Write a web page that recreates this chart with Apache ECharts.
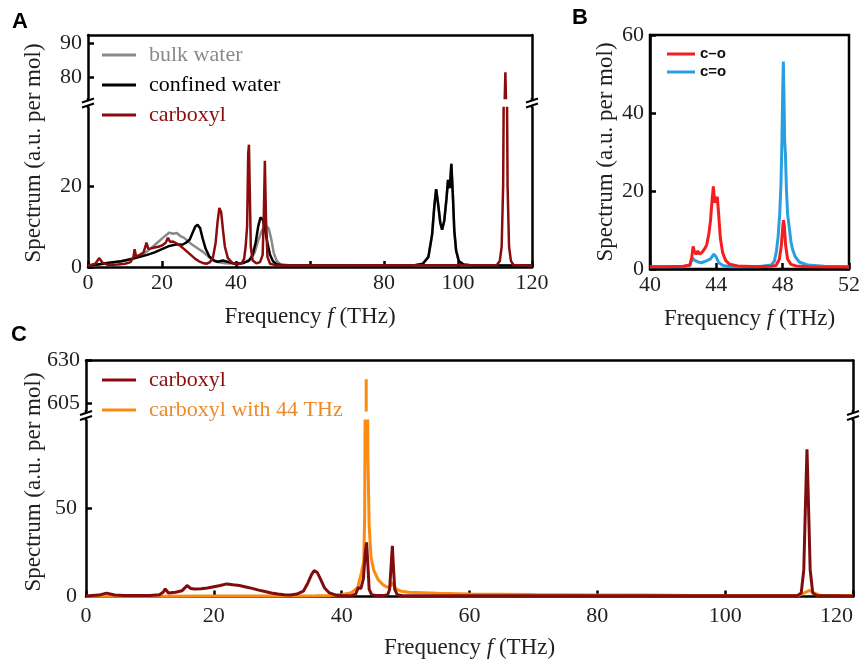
<!DOCTYPE html>
<html>
<head>
<meta charset="utf-8">
<title>Spectrum</title>
<script src="https://cdn.jsdelivr.net/npm/echarts@6/dist/echarts.min.js"></script>
<style>
html, body { margin: 0; padding: 0; background: #ffffff; }
#chart { width: 863px; height: 663px; }
</style>
</head>
<body>
<div id="chart"></div>
<script>
// ---- data (frequency THz, spectrum a.u. per mol) ----
// panel A
const bulkWater = [[0,0.3],[3,0.6],[6,1.0],[10,1.6],[13,2.4],[15,3.2],[17,4.6],[18.5,5.8],[20,7.0],[21,7.8],[22,8.5],[23,8.2],[24,8.4],[25,7.6],[26,7.2],[27,6.4],[28,5.6],[29,5.0],[30,4.4],[31,3.8],[32,3.0],[33,2.2],[34,1.6],[35,1.2],[37,0.9],[40,0.8],[42,1.0],[44,2.0],[45,3.5],[46,6.5],[47,9.0],[48,10.2],[48.8,9.6],[49.5,7.0],[50.2,3.5],[51,1.5],[52,0.7],[55,0.4],[88,0.4],[90.5,0.8],[92,2.5],[93,8],[93.6,15],[94.1,19.2],[94.7,15],[95.2,11],[95.7,9.2],[96.3,11.5],[96.9,17],[97.3,21.5],[97.6,20],[97.8,19.5],[98.2,25.5],[98.6,18],[99.0,9],[99.5,4],[100.2,1.5],[101.5,0.6],[104,0.4],[120,0.4]];
const confinedWater = [[0,0.3],[3,0.7],[6,1.1],[9,1.4],[12,2.0],[14,2.5],[16,3.0],[18,3.6],[20,4.4],[22,5.2],[24,5.6],[25.5,5.5],[26.5,6.0],[27.5,6.8],[28.3,8.5],[29,10.0],[29.6,10.4],[30.3,9.6],[31,7.0],[31.8,4.5],[32.8,2.6],[34,1.6],[35,1.3],[36.5,1.6],[38,1.2],[40,0.8],[42,1.0],[43.5,1.5],[44.5,3.0],[45.3,6.0],[46,10.0],[46.6,12.2],[47.2,11.8],[47.8,9.5],[48.5,6.0],[49.2,3.0],[50,1.4],[51,0.7],[53,0.4],[88,0.4],[90.5,0.8],[92,2.5],[93,8],[93.6,15],[94.1,19.2],[94.7,15],[95.2,11],[95.7,9.2],[96.3,11.5],[96.9,17],[97.3,21.5],[97.6,20],[97.8,19.5],[98.2,25.5],[98.6,18],[99.0,9],[99.5,4],[100.2,1.5],[101.5,0.6],[104,0.4],[120,0.4]];
const carboxylA = [[0,0.3],[2,0.8],[3,2.2],[4,1.0],[5.5,0.5],[8,0.6],[10,0.8],[11.5,1.2],[12.3,2.5],[12.6,4.4],[13,2.6],[14,3.0],[15,3.6],[15.5,5.0],[15.8,6.0],[16.3,4.5],[17,4.6],[18,4.8],[19,5.0],[20,5.3],[21,6.0],[21.6,7.2],[22.2,6.2],[23,6.3],[24,5.8],[25,5.2],[26,4.4],[27,3.6],[28,2.8],[29,2.0],[30,1.4],[31,1.0],[32,0.8],[33,1.2],[33.8,2.5],[34.5,6],[35,11],[35.5,14.6],[36,13.5],[36.5,9],[37,5],[37.8,2.2],[39,1.0],[40.5,0.7],[41.5,0.9],[42.2,2.0],[42.6,5.0],[43.0,10],[43.3,28],[43.5,30.2],[43.7,20],[44.0,5],[44.5,1.6],[45.5,0.9],[46.5,1.2],[47.2,3],[47.5,12],[47.8,26.2],[48.1,12],[48.5,2.5],[49.2,0.8],[51,0.4],[110.5,0.5],[111.3,1.5],[111.8,5],[112.2,20],[112.55,70],[112.8,81.5],[113.05,70],[113.4,20],[113.8,5],[114.3,1.5],[115,0.5],[120,0.4]];
// panel B
const cSingleO = [[40,0.6],[41,0.6],[42,0.7],[42.4,1.0],[42.52,3],[42.6,5.8],[42.68,4.5],[42.78,3.8],[42.88,4.6],[43.0,3.8],[43.15,4.3],[43.3,5.2],[43.42,6.2],[43.55,9],[43.65,12.5],[43.75,18],[43.82,21.2],[43.9,17],[43.98,16.5],[44.06,18.5],[44.14,14],[44.24,8],[44.38,4.2],[44.56,2.2],[44.8,1.2],[45.3,0.8],[46.5,0.6],[47.3,0.7],[47.6,0.9],[47.8,2.5],[47.92,6],[48.0,10.5],[48.05,12.5],[48.1,11],[48.18,6],[48.3,2.5],[48.5,1.2],[48.8,0.8],[49.5,0.6],[52,0.5]];
const cDoubleO = [[40,0.6],[42,0.6],[42.4,0.8],[42.55,2.8],[42.7,2.2],[42.9,1.8],[43.1,1.6],[43.4,2.1],[43.65,2.6],[43.85,3.8],[44.0,3],[44.15,1.6],[44.4,0.9],[44.8,0.6],[46.5,0.6],[47.3,1.0],[47.5,2],[47.62,4.5],[47.72,8],[47.82,14],[47.9,22],[47.96,34],[48.0,45],[48.04,53.2],[48.08,44],[48.12,33],[48.17,29],[48.23,20],[48.3,14],[48.4,10.5],[48.5,7],[48.6,5],[48.75,3.2],[49,1.8],[49.5,1],[50.5,0.7],[52,0.6]];
// panel C
const carboxylC = [[0,0.3],[2,0.8],[3.2,1.9],[4.5,0.8],[6,0.5],[10,0.5],[11.5,1.0],[12.1,2.5],[12.4,4.3],[12.9,2.0],[14,2.4],[15,3.2],[15.5,5],[15.8,6.2],[16.4,4.5],[17,4.2],[18,4.4],[19,4.8],[20,5.5],[21,6.2],[22,7.1],[23,6.6],[24,6.2],[25,5.4],[26,4.6],[27,3.6],[28,2.8],[29,2.0],[30,1.4],[31,1.0],[32,0.9],[33,1.4],[34,3.0],[34.7,7.5],[35.3,12.5],[35.7,14.6],[36.2,13.5],[36.8,9],[37.3,5],[38,2.2],[39,0.9],[40,0.5],[41.5,0.4],[42.2,1.5],[42.6,5.0],[43.0,4.5],[43.4,10],[43.7,25],[43.9,30.5],[44.1,18],[44.3,4],[44.7,1.0],[45.5,0.5],[46.5,0.5],[47.2,1.0],[47.5,4],[47.75,18],[47.93,28.6],[48.08,18],[48.3,4],[48.7,1.0],[49.5,0.4],[111.3,0.5],[111.9,2],[112.3,15],[112.55,50],[112.8,83],[113.05,50],[113.3,15],[113.7,2],[114.3,0.5],[120,0.3]];
const carboxyl44 = [[0,0.2],[10,0.2],[20,0.3],[30,0.3],[36,0.4],[38,0.6],[40,1.0],[41.5,2.2],[42.5,5],[43.1,13.6],[43.45,20],[43.6,45],[43.7,130],[43.78,350],[43.84,619],[43.9,400],[43.98,180],[44.1,80],[44.3,40],[44.6,22],[45,15],[45.7,9.5],[46.5,6.5],[47.3,5],[47.7,6],[47.95,8],[48.2,6],[48.6,4],[49.3,3],[50.5,2.4],[55,1.8],[60,1.4],[70,1.1],[80,0.9],[87.5,0.8],[87.8,1.8],[88.1,0.8],[95,0.6],[105,0.5],[111.5,0.6],[112.4,2],[113.2,3.4],[113.9,2],[114.8,0.7],[120,0.4]];

// tick values
const aUpperTicks = [80, 90];
const aLowerTicks = [0, 20];
const cUpperTicks = [605, 630];
const cLowerTicks = [0, 50];

// ---- layout ----
const A = { left: 88, width: 444, upTop: 35, upH: 63, lowTop: 108, lowH: 159 };
const B = { left: 650, top: 35, width: 199, height: 234 };
const C = { left: 86, width: 767, upTop: 360.5, upH: 49.5, lowTop: 421, lowH: 175.5 };

const SERIF = '"Liberation Serif", "Times New Roman", serif';
const TXT = '#231f20';
const AW = 2.5;

const chart = echarts.init(document.getElementById('chart'));

function xAx(grid, pos, opts) {
  return Object.assign({
    type: 'value', gridIndex: grid, position: pos, min: 0, max: 120, interval: 20,
    axisLine: { show: true, onZero: false, lineStyle: { color: '#000', width: AW } },
    axisTick: { show: false },
    axisLabel: { show: false },
    splitLine: { show: false }
  }, opts || {});
}
function yAx(grid, pos, min, max, opts) {
  return Object.assign({
    type: 'value', gridIndex: grid, position: pos, min: min, max: max,
    axisLine: { show: true, onZero: false, lineStyle: { color: '#000', width: AW } },
    axisTick: { show: false },
    axisLabel: { show: false },
    splitLine: { show: false }
  }, opts || {});
}
const tickIn = { show: true, inside: true, length: 6, lineStyle: { color: '#000', width: AW } };
const lab = (margin) => ({ show: true, margin: margin, color: TXT, fontFamily: SERIF, fontSize: 22 });
const freqName = {
  name: '{n|Frequency }{i|f}{n| (THz)}',
  nameLocation: 'middle',
  nameTextStyle: {
    rich: {
      n: { fontFamily: SERIF, fontSize: 23, color: TXT },
      i: { fontFamily: SERIF, fontSize: 23, color: TXT, fontStyle: 'italic' }
    }
  }
};

function line(name, data, color, xi, yi, z, w) {
  return {
    name: name, type: 'line', data: data, xAxisIndex: xi, yAxisIndex: yi,
    color: color, showSymbol: false, symbol: 'none', z: z, clip: true,
    lineStyle: { color: color, width: w || 2.5 }
  };
}

function breakMark(x, upperBottom, lowerTop) {
  const yb = (upperBottom + lowerTop) / 2;
  const s = { stroke: '#000', lineWidth: 2 };
  return {
    type: 'group', x: x, y: yb, z: 100,
    children: [
      { type: 'line', shape: { x1: 0, y1: upperBottom - yb, x2: 0, y2: -2.5 }, style: { stroke: '#000', lineWidth: AW } },
      { type: 'line', shape: { x1: 0, y1: 2.5, x2: 0, y2: lowerTop - yb }, style: { stroke: '#000', lineWidth: AW } },
      { type: 'line', shape: { x1: -6, y1: -0.5, x2: 6, y2: -4.5 }, style: s },
      { type: 'line', shape: { x1: -6, y1: 4.5, x2: 6, y2: 0.5 }, style: s }
    ]
  };
}
function yName(x, y) {
  return {
    type: 'text', x: x, y: y, rotation: Math.PI / 2,
    style: {
      text: 'Spectrum (a.u. per mol)', fill: TXT, font: '23px ' + SERIF,
      align: 'center', verticalAlign: 'middle', textAlign: 'center', textVerticalAlign: 'middle'
    }
  };
}
const panelLetter = (t, left, top) => ({
  text: t, left: left, top: top, padding: 0,
  textStyle: { fontFamily: '"Liberation Sans", Arial, sans-serif', fontWeight: 'bold', fontSize: 22, color: '#000' }
});

const aLow = A.lowH / 4.05;
const aUpMin = 80 - (A.upTop + A.upH - 77.3) / 3.4;
const aUpMax = aUpMin + A.upH / 3.4;
const cLow = C.lowH / 1.774;
const cUpMin = 630 - C.upH / 1.7;

const option = {
  animation: false,
  backgroundColor: '#ffffff',
  title: [panelLetter('A', 12, 11), panelLetter('B', 572, 7), panelLetter('C', 11, 324)],
  grid: [
    { left: A.left, top: A.upTop, width: A.width, height: A.upH, outerBoundsMode: 'none' },
    { left: A.left, top: A.lowTop, width: A.width, height: A.lowH, outerBoundsMode: 'none' },
    { left: B.left, top: B.top, width: B.width, height: B.height, outerBoundsMode: 'none',
      show: true, borderColor: '#000', borderWidth: AW },
    { left: C.left, top: C.upTop, width: C.width, height: C.upH, outerBoundsMode: 'none' },
    { left: C.left, top: C.lowTop, width: C.width, height: C.lowH, outerBoundsMode: 'none' }
  ],
  xAxis: [
    xAx(0, 'top'),
    xAx(1, 'bottom', Object.assign({
      axisTick: tickIn,
      axisLabel: Object.assign(lab(5), { formatter: v => (v === 60 ? '' : String(v)) }),
      nameGap: 38
    }, freqName)),
    Object.assign({
      type: 'value', gridIndex: 2, min: 40, max: 52, interval: 4,
      axisLine: { show: true, onZero: false, lineStyle: { color: '#000', width: AW } },
      axisTick: tickIn, axisLabel: lab(5), splitLine: { show: false }, nameGap: 38
    }, freqName),
    xAx(3, 'top'),
    xAx(4, 'bottom', Object.assign({
      axisTick: tickIn,
      axisLabel: Object.assign(lab(9), { alignMaxLabel: 'right' }),
      nameGap: 40
    }, freqName))
  ],
  yAxis: [
    yAx(0, 'left', aUpMin, aUpMax, {
      axisTick: Object.assign({ customValues: aUpperTicks }, tickIn),
      axisLabel: Object.assign({ customValues: aUpperTicks }, lab(6))
    }),
    yAx(0, 'right', aUpMin, aUpMax),
    yAx(1, 'left', 0, aLow, {
      axisTick: Object.assign({ customValues: aLowerTicks }, tickIn),
      axisLabel: Object.assign({ customValues: aLowerTicks }, lab(6))
    }),
    yAx(1, 'right', 0, aLow),
    yAx(2, 'left', 0, 60, {
      interval: 20, axisTick: tickIn, axisLabel: lab(6),
      name: 'Spectrum (a.u. per mol)', nameLocation: 'middle', nameGap: 33,
      nameTextStyle: { fontFamily: SERIF, fontSize: 23, color: TXT }
    }),
    yAx(3, 'left', cUpMin, 630, {
      axisTick: Object.assign({ customValues: cUpperTicks }, tickIn),
      axisLabel: Object.assign({ customValues: cUpperTicks }, lab(6))
    }),
    yAx(3, 'right', cUpMin, 630),
    yAx(4, 'left', 0, cLow, {
      axisTick: Object.assign({ customValues: cLowerTicks }, tickIn),
      axisLabel: Object.assign({ customValues: cLowerTicks }, lab(9))
    }),
    yAx(4, 'right', 0, cLow)
  ],
  legend: [
    {
      orient: 'vertical', left: 102, top: 44, padding: 0, itemGap: 8,
      itemWidth: 34, itemHeight: 3, icon: 'rect',
      textStyle: { fontFamily: SERIF, fontSize: 22, padding: [0, 0, 0, 8] },
      data: [
        { name: 'bulk water', textStyle: { color: '#8a8a8a' } },
        { name: 'confined water', textStyle: { color: '#000' } },
        { name: 'carboxyl', textStyle: { color: '#8b0c0c' } }
      ]
    },
    {
      orient: 'vertical', left: 667, top: 46.5, padding: 0, itemGap: 3,
      itemWidth: 28, itemHeight: 3, icon: 'rect',
      textStyle: { fontFamily: '"Liberation Sans", Arial, sans-serif', fontWeight: 'bold', fontSize: 15, color: '#111' },
      data: ['c\u2013o', 'c=o']
    },
    {
      orient: 'vertical', left: 102, top: 369, padding: 0, itemGap: 8,
      itemWidth: 34, itemHeight: 3, icon: 'rect',
      textStyle: { fontFamily: SERIF, fontSize: 22, padding: [0, 0, 0, 8] },
      data: [
        { name: 'carboxyl', textStyle: { color: '#8b0c0c' } },
        { name: 'carboxyl with 44 THz', textStyle: { color: '#ec8a2c' } }
      ]
    }
  ],
  graphic: [
    yName(34, 153),
    yName(34, 482),
    breakMark(A.left, A.upTop + A.upH, A.lowTop),
    breakMark(A.left + A.width, A.upTop + A.upH, A.lowTop),
    breakMark(C.left, C.upTop + C.upH, C.lowTop),
    breakMark(C.left + C.width, C.upTop + C.upH, C.lowTop)
  ],
  series: [
    line('bulk water', bulkWater, '#8a8a8a', 0, 0, 2),
    line('bulk water', bulkWater, '#8a8a8a', 1, 2, 2),
    line('confined water', confinedWater, '#000000', 0, 0, 3),
    line('confined water', confinedWater, '#000000', 1, 2, 3),
    line('carboxyl', carboxylA, '#8b0c0c', 0, 0, 4),
    line('carboxyl', carboxylA, '#8b0c0c', 1, 2, 4),
    line('c\u2013o', cSingleO, '#f51d1d', 2, 4, 4, 3),
    line('c=o', cDoubleO, '#2a9fe0', 2, 4, 3, 3),
    line('carboxyl', carboxylC, '#7f0d0d', 3, 5, 4, 3),
    line('carboxyl', carboxylC, '#7f0d0d', 4, 7, 4, 3),
    line('carboxyl with 44 THz', carboxyl44, '#fc8a0f', 3, 5, 3, 3),
    line('carboxyl with 44 THz', carboxyl44, '#fc8a0f', 4, 7, 3, 3)
  ]
};
chart.setOption(option);
</script>
</body>
</html>
